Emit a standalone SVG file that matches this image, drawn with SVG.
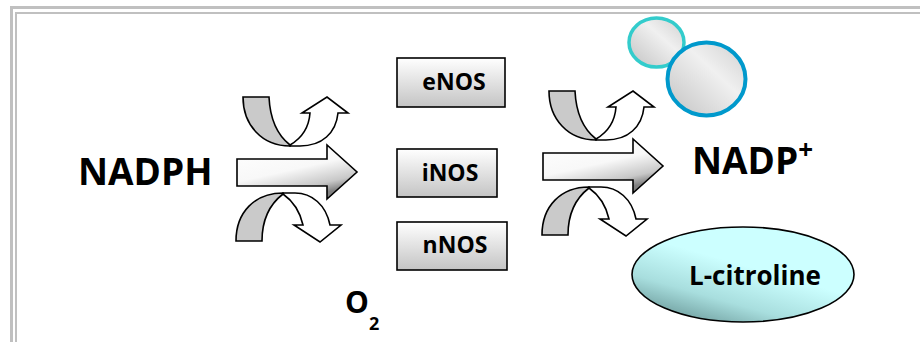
<svg xmlns="http://www.w3.org/2000/svg" xmlns:xlink="http://www.w3.org/1999/xlink" width="920" height="342" viewBox="0 0 920 342">
<style>
.frame{fill:none;stroke:#c0c0c0}
.ol{stroke:#000;stroke-width:1.6;stroke-linejoin:miter}
.band{fill:#cacaca}
.wh{fill:#fff}
.lbl{font-family:"Open Sans","DejaVu Sans",sans-serif;font-weight:bold;fill:#000}
.box{fill:url(#boxGrad);stroke:#000;stroke-width:1.6}
</style>
<defs>
<linearGradient id="arrowGrad" x1="0" y1="0" x2="0.5" y2="1">
<stop offset="0" stop-color="#fff"/>
<stop offset="0.55" stop-color="#f8f8f8"/>
<stop offset="0.85" stop-color="#c8c8c8"/>
<stop offset="1" stop-color="#808080"/>
</linearGradient>
<linearGradient id="boxGrad" x1="0" y1="0" x2="0" y2="1">
<stop offset="0" stop-color="#fff"/>
<stop offset="1" stop-color="#c4c4c4"/>
</linearGradient>
<linearGradient id="ballGrad" x1="0" y1="1" x2="1" y2="0">
<stop offset="0" stop-color="#c2c2c2"/>
<stop offset="0.6" stop-color="#f0f0f0"/>
<stop offset="1" stop-color="#cfcfcf"/>
</linearGradient>
<linearGradient id="citGrad" x1="0.1" y1="1" x2="0.5" y2="0.4">
<stop offset="0" stop-color="#5f8c8c"/>
<stop offset="0.5" stop-color="#a8dede"/>
<stop offset="1" stop-color="#ccffff"/>
</linearGradient>
<g id="rxn">
<path class="ol" fill="url(#arrowGrad)" d="M237,159 L327,159 L327,145 L357,172 L327,199 L327,186 L237,186 Z"/>
<path class="ol band" d="M243,97 L269,97 C270,118 276,134 290,145 L290,146 C262,146 243,125 243,97 Z"/>
<path class="ol wh" d="M290,145 C302,138 309,127 310,113 L302,113 L327,97 L348,113 L338,113 C336,133 322,146 300,146 L290,146 Z"/>
<path class="ol band" d="M236,241 C236,212 255,193 283,193 L283,194 C270,204 262,220 262,241 Z"/>
<path class="ol wh" d="M283,193 L295,193 C312,193 326,205 330,225 L341,225 L320,242 L294,225 L303,225 C300,212 293,201 283,194 Z"/>
</g>
</defs>
<g id="frame">
<path class="frame" stroke-width="3" d="M11.5,342 L11.5,7.5 L920,7.5"/>
<path class="frame" stroke-width="2" d="M16,342 L16,13 L920,13"/>
</g>
<g id="connectors">
<use xlink:href="#rxn" href="#rxn"/>
<use xlink:href="#rxn" href="#rxn" transform="translate(306,-6)"/>
</g>
<g id="nadph"><text class="lbl" x="78" y="185" font-size="37">NADPH</text></g>
<g id="enos"><rect class="box" x="397" y="58" width="108" height="49"/><text class="lbl" x="454" y="90" font-size="23" text-anchor="middle">eNOS</text></g>
<g id="inos"><rect class="box" x="397" y="149" width="100" height="48"/><text class="lbl" x="450" y="181" font-size="23" text-anchor="middle">iNOS</text></g>
<g id="nnos"><rect class="box" x="397" y="222" width="110" height="48"/><text class="lbl" x="455" y="253" font-size="23" text-anchor="middle">nNOS</text></g>
<g id="o2"><text class="lbl" x="345" y="313" font-size="30">O<tspan font-size="18" dy="17">2</tspan></text></g>
<g id="nadp"><text class="lbl" x="692" y="174" font-size="37">NADP<tspan font-size="26" dy="-15">+</tspan></text></g>
<g id="balls">
<ellipse cx="656.5" cy="42.5" rx="27.5" ry="24.5" fill="url(#ballGrad)" stroke="#33cccc" stroke-width="3.5"/>
<ellipse cx="706.5" cy="79" rx="39" ry="36.5" fill="url(#ballGrad)" stroke="#0099cc" stroke-width="4"/>
</g>
<g id="lcitroline">
<ellipse cx="743" cy="274.5" rx="111" ry="47.5" fill="url(#citGrad)" stroke="#000" stroke-width="1.6"/>
<text class="lbl" x="755" y="285" font-size="26" text-anchor="middle">L-citroline</text>
</g>
</svg>
